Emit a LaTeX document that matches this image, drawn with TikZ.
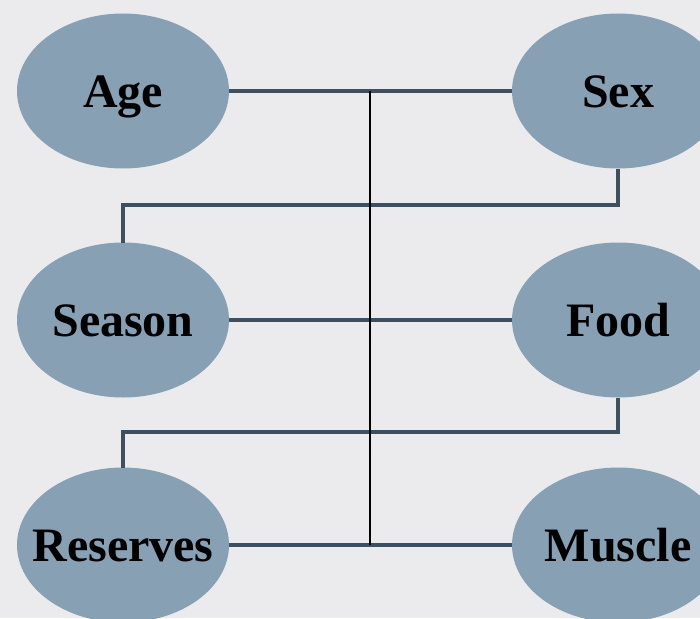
\documentclass[tikz,border=0pt]{standalone}
\usepackage{fontspec}
\setmainfont{Liberation Serif}
\usetikzlibrary{shapes.geometric}
\definecolor{bgcol}{HTML}{EBEBEE}
\definecolor{nodecol}{HTML}{87A0B4}
\definecolor{linkcol}{HTML}{3E5060}
\begin{document}
\begin{tikzpicture}[x=1pt,y=-1pt,inner sep=0pt,outer sep=0pt,
varnode/.style={ellipse,fill=nodecol,minimum width=212pt,minimum height=155pt,
  inner xsep=-20pt,text height=32pt,text depth=0pt,
  font=\fontsize{48}{56}\selectfont\bfseries},
link/.style={draw=linkcol,line width=4pt},
spine/.style={draw=black,line width=2pt}]

\clip (0,0) rectangle (700,618);
\fill[bgcol] (0,0) rectangle (700,618);

\draw (123,91) node[varnode] (age) {Age};
\draw (618,91) node[varnode] (sex) {Sex};
\draw (123,320) node[varnode] (season) {Season};
\draw (618,320) node[varnode] (food) {Food};
\draw (123,545) node[varnode] (reserves) {Reserves};
\draw (618,545) node[varnode] (muscle) {Muscle};

\coordinate (top) at (370,91);
\coordinate (bot) at (370,545);

\draw[link] (age.east) -- (sex.west);
\draw[link] (season.east) -- (food.west);
\draw[link] (reserves.east) -- (muscle.west);
\draw[link] (sex.south) -- ++(0,36) -| (season.north);
\draw[link] (food.south) -- ++(0,34) -| (reserves.north);
\draw[spine] (top) -- (bot);
\end{tikzpicture}
\end{document}
